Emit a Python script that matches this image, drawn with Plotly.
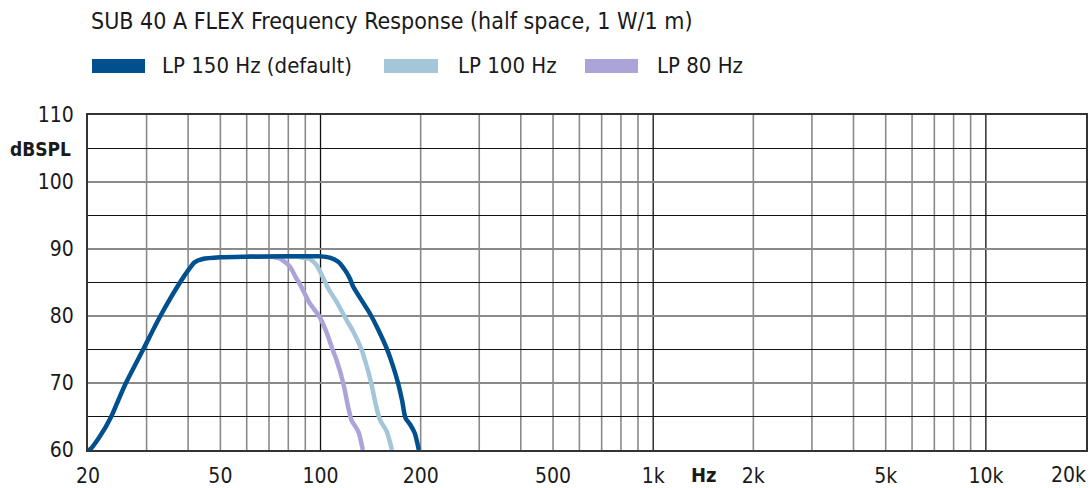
import plotly.graph_objects as go
import math

# ---------------- data ----------------
f_150 = [20, 20.3, 21.7, 23.5, 24.7, 26, 29.3, 33, 37.8, 40.4, 41.8, 44.2, 50, 60, 80, 95, 100,
         106.6, 113, 118.3, 122.5, 125.3, 141, 149, 158, 165, 171, 176, 180, 186, 192, 197.5]
db_150 = [60, 60.1, 62, 65, 67.5, 70, 75, 80, 85, 87.1, 88, 88.5, 88.76, 88.85, 88.9, 88.9, 88.9,
          88.7, 88.1, 86.9, 85.6, 84.4, 80.3, 78, 75.2, 72.6, 70, 67.3, 64.8, 63.8, 62.5, 60]

f_100 = [70, 85, 88.6, 92.8, 97.3, 101.8, 105.5, 111.8, 119.7, 125, 132.8, 136, 142, 147, 150.9, 158, 164]
db_100 = [88.9, 88.85, 88.7, 88.5, 87.6, 85.7, 84.1, 82.1, 79.4, 77.8, 75, 73.4, 70, 66.5, 64.5, 62.8, 60]

f_80 = [60, 70, 75.4, 80.8, 84.6, 86.2, 92.8, 99, 104, 108.7, 111.8, 117, 121, 123.8, 130, 134]
db_80 = [88.9, 88.85, 88.6, 87.4, 85.6, 85, 81.9, 80, 77.7, 75, 73.4, 70, 66.5, 64.5, 62.7, 60]

series_names = ["LP 150 Hz (default)", "LP 100 Hz", "LP 80 Hz"]
x_tickvals = [20, 50, 100, 200, 500, 1000, 2000, 5000, 10000, 20000]
x_ticktext = ["20", "50", "100", "200", "500", "1k", "2k", "5k", "10k", "20k"]
y_tickvals = [60, 70, 80, 90, 100, 110]
y_ticktext = ["60", "70", "80", "90", "100", "110"]

# ---------------- styling ----------------
C150 = "#00508f"
C100 = "#a5c5d8"
C80 = "#aba4d9"
FONT = "DejaVu Sans Condensed, Roboto, Liberation Sans, sans-serif"
TXT = "#1a1a1a"

W, H = 1091, 488
L, R, T, B = 88, 1086, 115, 450


def px2x(px):
    return (px - L) / (R - L)


def px2y(py):
    return (B - py) / (B - T)


fig = go.Figure()
for fx, fy, c, n in [(f_80, db_80, C80, series_names[2]),
                     (f_100, db_100, C100, series_names[1]),
                     (f_150, db_150, C150, series_names[0])]:
    fig.add_trace(go.Scatter(x=fx, y=fy, mode="lines", name=n,
                             line=dict(color=c, width=4.5, shape="spline", smoothing=0.7),
                             showlegend=False, hoverinfo="x+y"))

shapes = []
# vertical grid
grid_f = []
for dec in [10, 100, 1000, 10000]:
    for m in range(1, 10):
        v = dec * m
        if 20 < v < 20000:
            grid_f.append(v)
for v in grid_f:
    decade = abs(math.log10(v) - round(math.log10(v))) < 1e-9
    shapes.append(dict(type="line", xref="x", yref="paper", x0=v, x1=v,
                       y0=0, y1=1, layer="below",
                       line=dict(color="#111111" if decade else "#8a8a8a", width=1.3 if decade else 1.6)))
# horizontal grid
for v in range(65, 110, 5):
    major = v % 10 == 0
    shapes.append(dict(type="line", xref="paper", yref="y", x0=0, x1=1, y0=v, y1=v, layer="below",
                       line=dict(color="#8a8a8a" if major else "#111111", width=1.8 if major else 1.1)))

# legend swatches
leg = [(92, 145, C150, 160, series_names[0]),
       (384, 438, C100, 456, series_names[1]),
       (585, 638, C80, 655, series_names[2])]
annotations = []
for x0, x1, c, tx, name in leg:
    shapes.append(dict(type="rect", xref="paper", yref="paper", x0=px2x(x0), x1=px2x(x1),
                       y0=px2y(73), y1=px2y(59), fillcolor=c, line=dict(width=0)))
    annotations.append(dict(text=name, xref="paper", yref="paper", x=px2x(tx), y=px2y(66),
                            xanchor="left", yanchor="middle", showarrow=False,
                            font=dict(family=FONT, size=22, color=TXT)))

annotations.append(dict(text="SUB 40 A FLEX Frequency Response (half space, 1 W/1 m)",
                        xref="paper", yref="paper", x=px2x(89), y=px2y(21),
                        xanchor="left", yanchor="middle", showarrow=False,
                        font=dict(family=FONT, size=23, color=TXT)))
annotations.append(dict(text="<b>dBSPL</b>", xref="paper", yref="y", x=px2x(73), y=105,
                        xanchor="right", yanchor="middle", showarrow=False,
                        font=dict(family=FONT, size=19, color=TXT)))
annotations.append(dict(text="<b>Hz</b>", xref="x", yref="paper", x=math.log10(1420), y=px2y(475),
                        xanchor="center", yanchor="middle", showarrow=False,
                        font=dict(family=FONT, size=20, color=TXT)))
# last x label sits inside the right edge
annotations.append(dict(text=x_ticktext[-1], xref="paper", yref="paper", x=px2x(1088), y=px2y(475),
                        xanchor="right", yanchor="middle", showarrow=False,
                        font=dict(family=FONT, size=21, color=TXT)))

fig.update_layout(
    width=W, height=H,
    margin=dict(l=L, r=W - R, t=T, b=H - B, pad=0),
    paper_bgcolor="white", plot_bgcolor="white",
    shapes=shapes, annotations=annotations,
    showlegend=False,
    xaxis=dict(type="log", range=[math.log10(20), math.log10(20000)], showgrid=False, zeroline=False,
               tickmode="array", tickvals=x_tickvals[:-1], ticktext=x_ticktext[:-1], ticks="",
               ticklabelstandoff=6, automargin=False,
               showline=True, mirror=True, linecolor="#333333", linewidth=2,
               tickfont=dict(family=FONT, size=21, color=TXT)),
    yaxis=dict(range=[60, 110], showgrid=False, zeroline=False,
               tickmode="array", tickvals=y_tickvals, ticktext=y_ticktext, ticks="",
               ticklabelstandoff=8, automargin=False,
               showline=True, mirror=True, linecolor="#333333", linewidth=2,
               tickfont=dict(family=FONT, size=21, color=TXT)),
)

fig.write_html("out.html", config={"displayModeBar": False},
               post_script="document.body.style.margin='0px';document.body.style.overflow='hidden';")
